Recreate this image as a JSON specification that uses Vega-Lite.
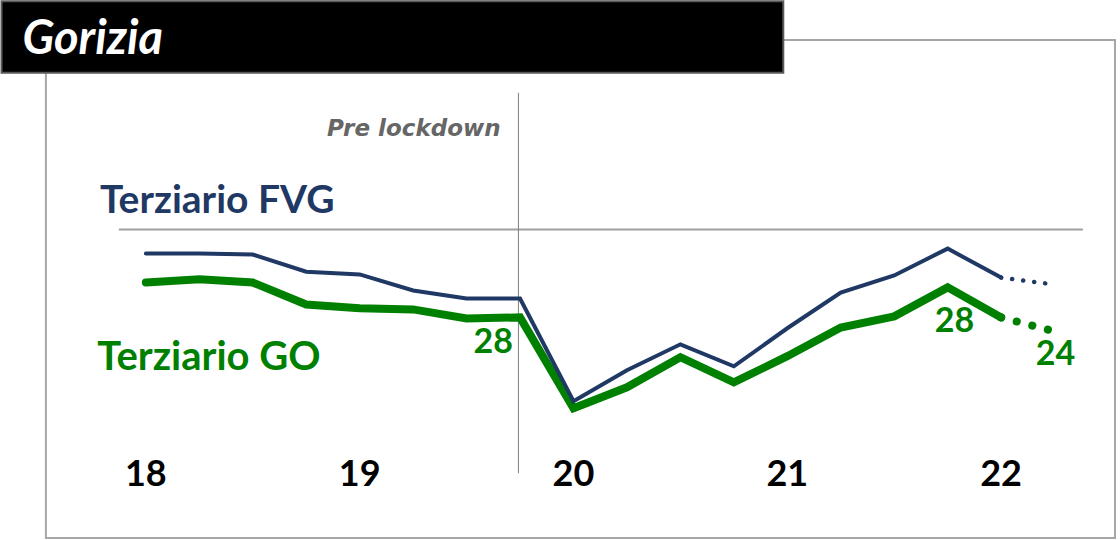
{
  "$schema": "https://vega.github.io/schema/vega-lite/v6.json",
  "width": 1120,
  "height": 540,
  "autosize": {"type": "fit", "contains": "padding"},
  "padding": 0,
  "background": "white",
  "config": {"view": {"stroke": null}},
  "datasets": {
    "series": [
      {"q": 0, "s": "FVG", "v": 46.3, "part": "solid"},
      {"q": 1, "s": "FVG", "v": 46.3, "part": "solid"},
      {"q": 2, "s": "FVG", "v": 46.0, "part": "solid"},
      {"q": 3, "s": "FVG", "v": 41.1, "part": "solid"},
      {"q": 4, "s": "FVG", "v": 40.3, "part": "solid"},
      {"q": 5, "s": "FVG", "v": 35.7, "part": "solid"},
      {"q": 6, "s": "FVG", "v": 33.4, "part": "solid"},
      {"q": 7, "s": "FVG", "v": 33.4, "part": "solid"},
      {"q": 8, "s": "FVG", "v": 4.0, "part": "solid"},
      {"q": 9, "s": "FVG", "v": 12.9, "part": "solid"},
      {"q": 10, "s": "FVG", "v": 20.3, "part": "solid"},
      {"q": 11, "s": "FVG", "v": 14.0, "part": "solid"},
      {"q": 12, "s": "FVG", "v": 24.9, "part": "solid"},
      {"q": 13, "s": "FVG", "v": 35.1, "part": "solid"},
      {"q": 14, "s": "FVG", "v": 40.0, "part": "solid"},
      {"q": 15, "s": "FVG", "v": 47.7, "part": "solid"},
      {"q": 16, "s": "FVG", "v": 39.4, "part": "solid"},
      {"q": 16, "s": "FVG", "v": 39.4, "part": "dotted"},
      {"q": 17, "s": "FVG", "v": 37.4, "part": "dotted"},
      {"q": 0, "s": "GO", "v": 38.0, "part": "solid"},
      {"q": 1, "s": "GO", "v": 38.9, "part": "solid"},
      {"q": 2, "s": "GO", "v": 38.0, "part": "solid"},
      {"q": 3, "s": "GO", "v": 31.7, "part": "solid"},
      {"q": 4, "s": "GO", "v": 30.6, "part": "solid"},
      {"q": 5, "s": "GO", "v": 30.3, "part": "solid"},
      {"q": 6, "s": "GO", "v": 27.7, "part": "solid"},
      {"q": 7, "s": "GO", "v": 28.0, "part": "solid", "lbl": "28"},
      {"q": 8, "s": "GO", "v": 2.0, "part": "solid"},
      {"q": 9, "s": "GO", "v": 8.0, "part": "solid"},
      {"q": 10, "s": "GO", "v": 16.6, "part": "solid"},
      {"q": 11, "s": "GO", "v": 9.4, "part": "solid"},
      {"q": 12, "s": "GO", "v": 16.9, "part": "solid"},
      {"q": 13, "s": "GO", "v": 25.1, "part": "solid"},
      {"q": 14, "s": "GO", "v": 28.3, "part": "solid"},
      {"q": 15, "s": "GO", "v": 36.6, "part": "solid"},
      {"q": 16, "s": "GO", "v": 28.0, "part": "solid", "lbl": "28"},
      {"q": 16, "s": "GO", "v": 28.0, "part": "dotted"},
      {"q": 17, "s": "GO", "v": 24.0, "part": "dotted", "lbl": "24"}
    ],
    "years": [
      {"q": 0, "yr": "18"},
      {"q": 4, "yr": "19"},
      {"q": 8, "yr": "20"},
      {"q": 12, "yr": "21"},
      {"q": 16, "yr": "22"}
    ]
  },
  "layer": [
    {
      "data": {"values": [{}]},
      "mark": {"type": "rect", "fill": "white", "stroke": "#A6A6A6", "strokeWidth": 2},
      "encoding": {
        "x": {"datum": -1.87, "type": "quantitative", "scale": {"domain": [-2.71, 18.224], "nice": false, "zero": false}, "axis": null},
        "x2": {"datum": 18.13},
        "y": {"datum": 107.43, "type": "quantitative", "scale": {"domain": [-35.71, 118.57], "nice": false, "zero": false}, "axis": null},
        "y2": {"datum": -35.14}
      }
    },
    {
      "data": {"values": [{}]},
      "mark": {"type": "rect", "fill": "black", "stroke": "#595959", "strokeWidth": 2},
      "encoding": {
        "x": {"datum": -2.70, "type": "quantitative", "scale": {"domain": [-2.71, 18.224], "nice": false, "zero": false}, "axis": null},
        "x2": {"datum": 11.925},
        "y": {"datum": 118.5, "type": "quantitative", "scale": {"domain": [-35.71, 118.57], "nice": false, "zero": false}, "axis": null},
        "y2": {"datum": 98}
      }
    },
    {
      "data": {"values": [{"t": "Gorizia"}]},
      "mark": {"type": "text", "align": "left", "baseline": "middle", "font": "Lato", "fontSize": 47, "fontStyle": "italic", "fontWeight": "bold", "color": "white"},
      "encoding": {
        "x": {"datum": -2.31, "type": "quantitative", "scale": {"domain": [-2.71, 18.224], "nice": false, "zero": false}, "axis": null},
        "y": {"datum": 107.5, "type": "quantitative", "scale": {"domain": [-35.71, 118.57], "nice": false, "zero": false}, "axis": null},
        "text": {"field": "t"}
      }
    },
    {
      "data": {"values": [{}]},
      "mark": {"type": "rule", "stroke": "#A0A0A0", "strokeWidth": 2},
      "encoding": {
        "x": {"datum": -0.505, "type": "quantitative", "scale": {"domain": [-2.71, 18.224], "nice": false, "zero": false}, "axis": null},
        "x2": {"datum": 17.53},
        "y": {"datum": 53.14, "type": "quantitative", "scale": {"domain": [-35.71, 118.57], "nice": false, "zero": false}, "axis": null}
      }
    },
    {
      "data": {"values": [{}]},
      "mark": {"type": "rule", "stroke": "#7F7F7F", "strokeWidth": 1},
      "encoding": {
        "x": {"datum": 6.97, "type": "quantitative", "scale": {"domain": [-2.71, 18.224], "nice": false, "zero": false}, "axis": null},
        "y": {"datum": 92.3, "type": "quantitative", "scale": {"domain": [-35.71, 118.57], "nice": false, "zero": false}, "axis": null},
        "y2": {"datum": -16.6}
      }
    },
    {
      "data": {"values": [{"t": "Pre lockdown"}]},
      "mark": {"type": "text", "align": "right", "baseline": "middle", "font": "DejaVu Sans", "fontSize": 23, "fontStyle": "italic", "fontWeight": "bold", "color": "#666666"},
      "encoding": {
        "x": {"datum": 6.636, "type": "quantitative", "scale": {"domain": [-2.71, 18.224], "nice": false, "zero": false}, "axis": null},
        "y": {"datum": 82, "type": "quantitative", "scale": {"domain": [-35.71, 118.57], "nice": false, "zero": false}, "axis": null},
        "text": {"field": "t"}
      }
    },
    {
      "data": {"values": [{"t": "Terziario FVG"}]},
      "mark": {"type": "text", "align": "left", "baseline": "middle", "font": "Lato", "fontSize": 39, "fontWeight": "bold", "color": "#1F3864"},
      "encoding": {
        "x": {"datum": -0.86, "type": "quantitative", "scale": {"domain": [-2.71, 18.224], "nice": false, "zero": false}, "axis": null},
        "y": {"datum": 61.4, "type": "quantitative", "scale": {"domain": [-35.71, 118.57], "nice": false, "zero": false}, "axis": null},
        "text": {"field": "t"}
      }
    },
    {
      "data": {"values": [{"t": "Terziario GO"}]},
      "mark": {"type": "text", "align": "left", "baseline": "middle", "font": "Lato", "fontSize": 40, "fontWeight": "bold", "color": "#008000"},
      "encoding": {
        "x": {"datum": -0.91, "type": "quantitative", "scale": {"domain": [-2.71, 18.224], "nice": false, "zero": false}, "axis": null},
        "y": {"datum": 16.4, "type": "quantitative", "scale": {"domain": [-35.71, 118.57], "nice": false, "zero": false}, "axis": null},
        "text": {"field": "t"}
      }
    },
    {
      "data": {"name": "series"},
      "transform": [{"filter": "datum.s === 'GO' && datum.part === 'solid'"}],
      "mark": {"type": "line", "stroke": "#008000", "strokeWidth": 8, "strokeCap": "round"},
      "encoding": {
        "x": {"field": "q", "type": "quantitative", "scale": {"domain": [-2.71, 18.224], "nice": false, "zero": false}, "axis": null},
        "y": {"field": "v", "type": "quantitative", "scale": {"domain": [-35.71, 118.57], "nice": false, "zero": false}, "axis": null}
      }
    },
    {
      "data": {"name": "series"},
      "transform": [{"filter": "datum.s === 'GO' && datum.part === 'dotted'"}],
      "mark": {"type": "line", "stroke": "#008000", "strokeWidth": 8, "strokeCap": "round", "strokeDash": [0.1, 16]},
      "encoding": {
        "x": {"field": "q", "type": "quantitative", "scale": {"domain": [-2.71, 18.224], "nice": false, "zero": false}, "axis": null},
        "y": {"field": "v", "type": "quantitative", "scale": {"domain": [-35.71, 118.57], "nice": false, "zero": false}, "axis": null}
      }
    },
    {
      "data": {"name": "series"},
      "transform": [{"filter": "datum.s === 'FVG' && datum.part === 'solid'"}],
      "mark": {"type": "line", "stroke": "#1F3864", "strokeWidth": 4, "strokeCap": "round"},
      "encoding": {
        "x": {"field": "q", "type": "quantitative", "scale": {"domain": [-2.71, 18.224], "nice": false, "zero": false}, "axis": null},
        "y": {"field": "v", "type": "quantitative", "scale": {"domain": [-35.71, 118.57], "nice": false, "zero": false}, "axis": null}
      }
    },
    {
      "data": {"name": "series"},
      "transform": [{"filter": "datum.s === 'FVG' && datum.part === 'dotted'"}],
      "mark": {"type": "line", "stroke": "#1F3864", "strokeWidth": 4.5, "strokeCap": "round", "strokeDash": [0.1, 11]},
      "encoding": {
        "x": {"field": "q", "type": "quantitative", "scale": {"domain": [-2.71, 18.224], "nice": false, "zero": false}, "axis": null},
        "y": {"field": "v", "type": "quantitative", "scale": {"domain": [-35.71, 118.57], "nice": false, "zero": false}, "axis": null}
      }
    },
    {
      "data": {"name": "series"},
      "transform": [{"filter": "datum.lbl && datum.q === 7"}],
      "mark": {"type": "text", "align": "right", "baseline": "middle", "font": "Lato", "fontSize": 34, "fontWeight": "bold", "color": "#008000", "dx": -7, "dy": 26},
      "encoding": {
        "x": {"field": "q", "type": "quantitative", "scale": {"domain": [-2.71, 18.224], "nice": false, "zero": false}, "axis": null},
        "y": {"field": "v", "type": "quantitative", "scale": {"domain": [-35.71, 118.57], "nice": false, "zero": false}, "axis": null},
        "text": {"field": "lbl"}
      }
    },
    {
      "data": {"name": "series"},
      "transform": [{"filter": "datum.lbl && datum.q === 16"}],
      "mark": {"type": "text", "align": "right", "baseline": "middle", "font": "Lato", "fontSize": 34, "fontWeight": "bold", "color": "#008000", "dx": -27, "dy": 5},
      "encoding": {
        "x": {"field": "q", "type": "quantitative", "scale": {"domain": [-2.71, 18.224], "nice": false, "zero": false}, "axis": null},
        "y": {"field": "v", "type": "quantitative", "scale": {"domain": [-35.71, 118.57], "nice": false, "zero": false}, "axis": null},
        "text": {"field": "lbl"}
      }
    },
    {
      "data": {"name": "series"},
      "transform": [{"filter": "datum.lbl && datum.q === 17"}],
      "mark": {"type": "text", "align": "center", "baseline": "middle", "font": "Lato", "fontSize": 34, "fontWeight": "bold", "color": "#008000", "dx": 1, "dy": 24},
      "encoding": {
        "x": {"field": "q", "type": "quantitative", "scale": {"domain": [-2.71, 18.224], "nice": false, "zero": false}, "axis": null},
        "y": {"field": "v", "type": "quantitative", "scale": {"domain": [-35.71, 118.57], "nice": false, "zero": false}, "axis": null},
        "text": {"field": "lbl"}
      }
    },
    {
      "data": {"name": "years"},
      "mark": {"type": "text", "align": "center", "baseline": "middle", "font": "Lato", "fontSize": 36, "fontWeight": "bold", "color": "black"},
      "encoding": {
        "x": {"field": "q", "type": "quantitative", "scale": {"domain": [-2.71, 18.224], "nice": false, "zero": false}, "axis": null},
        "y": {"datum": -17.1, "type": "quantitative", "scale": {"domain": [-35.71, 118.57], "nice": false, "zero": false}, "axis": null},
        "text": {"field": "yr"}
      }
    }
  ]
}
